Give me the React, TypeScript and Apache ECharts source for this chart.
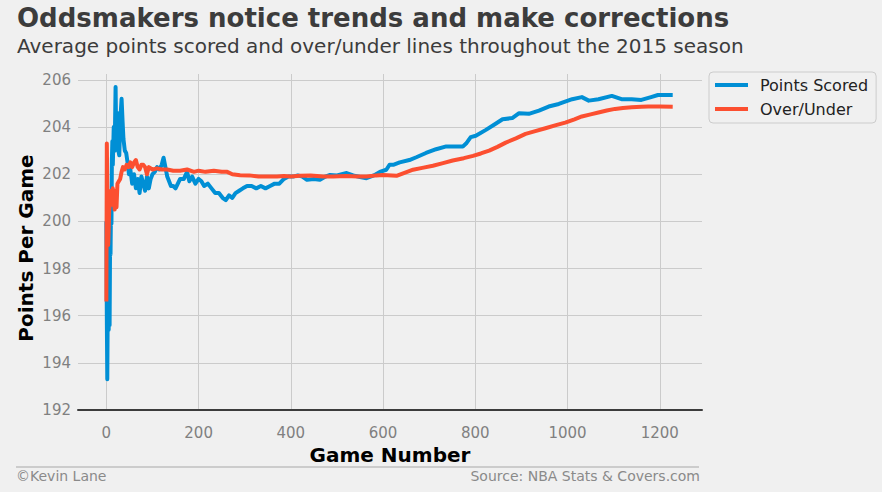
import React, { useEffect, useRef } from "react";
import * as echarts from "echarts";

const titleText = "Oddsmakers notice trends and make corrections";
const subtitleText = "Average points scored and over/under lines throughout the 2015 season";
const xAxisName = "Game Number";
const yAxisName = "Points Per Game";
const seriesNames = ["Points Scored", "Over/Under"];
const footerLeft = "©Kevin Lane";
const footerRight = "Source: NBA Stats & Covers.com";

const gamesScored = [
  0, 1, 2, 3, 4, 5, 6, 7, 8, 9, 10, 11, 12, 13, 14, 16, 18, 20, 21, 22, 24, 26, 28, 30, 33, 35, 37, 40,
  43, 46, 49, 52, 56, 60, 64, 68, 72, 76, 80, 84, 88, 92, 96, 100, 105, 110, 115, 120, 124, 128, 132,
  136, 140, 145, 150, 155, 160, 168, 175, 180, 186, 193, 200, 206, 212, 220, 228, 236, 244, 252, 259,
  266, 273, 280, 288, 296, 305, 315, 325, 335, 345, 355, 365, 375, 385, 395, 405, 415, 425, 435, 450,
  463, 475, 485, 500, 521, 535, 550, 564, 580, 593, 607, 614, 622, 636, 657, 672, 693, 715, 737, 758,
  773, 780, 790, 801, 823, 844, 859, 880, 895, 916, 938, 959, 981, 1010, 1031, 1046, 1067, 1096, 1117,
  1139, 1160, 1181, 1196, 1228,
];
const pointsScored = [
  200.0, 196.0, 193.3, 196.4, 195.8, 195.4, 196.6, 195.6, 198.9, 198.6, 200.5, 199.9, 202.6, 203.4,
  202.4, 204.0, 203.0, 205.7, 204.0, 203.2, 204.6, 203.0, 202.8, 204.2, 205.2, 204.3, 203.5, 203.0,
  202.9, 202.5, 202.0, 202.2, 201.6, 202.0, 201.4, 201.8, 201.2, 201.9, 201.6, 201.3, 201.9, 201.4,
  201.8, 202.0, 202.1, 202.3, 202.2, 202.4, 202.7, 202.3, 201.9, 201.7, 201.5, 201.5, 201.4, 201.6,
  201.8, 201.8, 202.1, 201.7, 201.9, 201.6, 201.8, 201.7, 201.5, 201.6, 201.4, 201.2, 201.2, 201.0,
  200.9, 201.1, 201.0, 201.2, 201.3, 201.4, 201.5, 201.5, 201.4, 201.5, 201.4, 201.5, 201.6, 201.6,
  201.8, 201.9, 201.9, 201.95, 201.9, 201.76, 201.8, 201.76, 201.9, 201.97, 201.95, 202.05, 201.95,
  201.88, 201.83, 201.95, 202.1, 202.19, 202.4, 202.4, 202.5, 202.6, 202.72, 202.9, 203.06, 203.18,
  203.18, 203.18, 203.3, 203.57, 203.63, 203.88, 204.14, 204.33, 204.38, 204.59, 204.56, 204.7, 204.87,
  204.98, 205.18, 205.27, 205.12, 205.18, 205.32, 205.18, 205.18, 205.15, 205.27, 205.36, 205.36,
];

const gamesLine = [
  0, 1, 2, 3, 4, 5, 6, 8, 10, 12, 14, 16, 18, 20, 22, 24, 27, 30, 33, 36, 40, 44, 48, 52, 56, 60, 64,
  68, 72, 76, 80, 84, 88, 92, 100, 110, 120, 132, 145, 160, 175, 190, 200, 215, 233, 250, 262, 273,
  290, 310, 330, 350, 370, 385, 400, 420, 443, 470, 492, 520, 545, 564, 585, 600, 629, 645, 665, 685,
  708, 730, 751, 775, 795, 812, 830, 848, 866, 888, 909, 930, 952, 975, 995, 1015, 1031, 1050, 1067,
  1085, 1103, 1120, 1139, 1160, 1175, 1200, 1228,
];
const overUnder = [
  196.6, 203.3, 201.5, 199.8, 199.0, 199.6, 200.4, 200.9, 201.3, 200.7, 201.4, 201.0, 200.5, 201.3,
  200.6, 201.6, 201.7, 201.8, 202.1, 202.3, 202.2, 202.4, 202.3, 202.5, 202.3, 202.5, 202.6, 202.3,
  202.2, 202.4, 202.4, 202.3, 202.0, 202.3, 202.2, 202.25, 202.2, 202.2, 202.15, 202.15, 202.2, 202.1,
  202.15, 202.1, 202.15, 202.1, 202.1, 202.0, 201.96, 201.95, 201.9, 201.9, 201.9, 201.92, 201.9,
  201.93, 201.95, 201.9, 201.9, 201.92, 201.9, 201.9, 201.95, 201.97, 201.93, 202.05, 202.19, 202.27,
  202.36, 202.47, 202.58, 202.68, 202.78, 202.88, 203.0, 203.16, 203.34, 203.52, 203.71, 203.83,
  203.95, 204.08, 204.19, 204.33, 204.45, 204.54, 204.62, 204.7, 204.77, 204.81, 204.84, 204.86,
  204.87, 204.87, 204.86,
];

const FONT = "DejaVu Sans";

export default function App() {
  const ref = useRef<HTMLDivElement>(null);
  useEffect(() => {
    if (!ref.current) return;
    const chart = echarts.init(ref.current, undefined, { renderer: "svg" });
    const scoredData = gamesScored.map((g, i) => [g, pointsScored[i]]);
    const lineData = gamesLine.map((g, i) => [g, overUnder[i]]);
    chart.setOption({
      animation: false,
      backgroundColor: "#f0f0f0",
      textStyle: { fontFamily: FONT },
      grid: { left: 78, right: 180, top: 74, bottom: 82, containLabel: false },
      xAxis: {
        type: "value",
        min: -61.5,
        max: 1291.5,
        splitNumber: 7,
        name: xAxisName,
        nameLocation: "middle",
        nameGap: 33,
        nameTextStyle: { fontFamily: FONT, fontSize: 20, fontWeight: "bold", color: "#000" },
        axisLine: { show: true, lineStyle: { color: "#3c3c3c", width: 2 } },
        axisTick: { show: false },
        axisLabel: {
          margin: 15,
          fontFamily: FONT,
          fontSize: 15,
          color: "#808080",
          showMinLabel: false,
          showMaxLabel: false,
          formatter: (v: number) => String(v),
        },
        splitLine: { show: true, showMinLine: false, showMaxLine: false, lineStyle: { color: "#cbcbcb", width: 1 } },
      },
      yAxis: {
        type: "value",
        min: 192,
        max: 206.25,
        interval: 2,
        axisLine: { show: false },
        axisTick: { show: false },
        axisLabel: {
          margin: 7,
          fontFamily: FONT,
          fontSize: 15,
          color: "#808080",
          showMaxLabel: false,
          formatter: (v: number) => String(v),
        },
        splitLine: { show: true, showMaxLine: false, lineStyle: { color: "#cbcbcb", width: 1 } },
      },
      legend: {
        orient: "vertical",
        left: 709,
        top: 72,
        padding: [3, 8, 4, 6],
        itemWidth: 33,
        itemHeight: 4,
        itemGap: 4,
        icon: "rect",
        borderColor: "#cccccc",
        borderWidth: 1,
        borderRadius: 4,
        backgroundColor: "#f0f0f0",
        textStyle: { fontFamily: FONT, fontSize: 16, color: "#222", lineHeight: 20, padding: [0, 0, 0, 7] },
        data: seriesNames,
      },
      graphic: [
        {
          type: "text",
          left: 17,
          top: 5,
          style: { text: titleText, font: `bold 26px "${FONT}"`, fill: "#3c3c3c" },
        },
        {
          type: "text",
          left: 17,
          top: 36,
          style: { text: subtitleText, font: `20px "${FONT}"`, fill: "#3c3c3c" },
        },
        {
          type: "text",
          x: 26,
          y: 248,
          rotation: Math.PI / 2,
          style: {
            text: yAxisName,
            font: `bold 20px "${FONT}"`,
            fill: "#000",
            align: "center",
            verticalAlign: "middle",
          },
        },
        {
          type: "line",
          shape: { x1: 16, y1: 467, x2: 699, y2: 467 },
          style: { stroke: "#a8a8a8", lineWidth: 1 },
        },
        {
          type: "text",
          left: 16,
          top: 469,
          style: { text: footerLeft, font: `14px "${FONT}"`, fill: "#8a8a8a" },
        },
        {
          type: "text",
          right: 882 - 700,
          top: 469,
          style: { text: footerRight, font: `14px "${FONT}"`, fill: "#8a8a8a" },
        },
      ],
      series: [
        {
          name: seriesNames[0],
          type: "line",
          data: scoredData,
          showSymbol: false,
          itemStyle: { color: "#008fd5" },
          lineStyle: { color: "#008fd5", width: 4, join: "round" },
          z: 2,
        },
        {
          name: seriesNames[1],
          type: "line",
          data: lineData,
          showSymbol: false,
          itemStyle: { color: "#fc4f30" },
          lineStyle: { color: "#fc4f30", width: 4, join: "round" },
          z: 3,
        },
      ],
    });
    return () => chart.dispose();
  }, []);
  return (
    <div
      ref={ref}
      style={{ position: "fixed", left: 0, top: 0, width: 882, height: 492, background: "#f0f0f0" }}
    />
  );
}
